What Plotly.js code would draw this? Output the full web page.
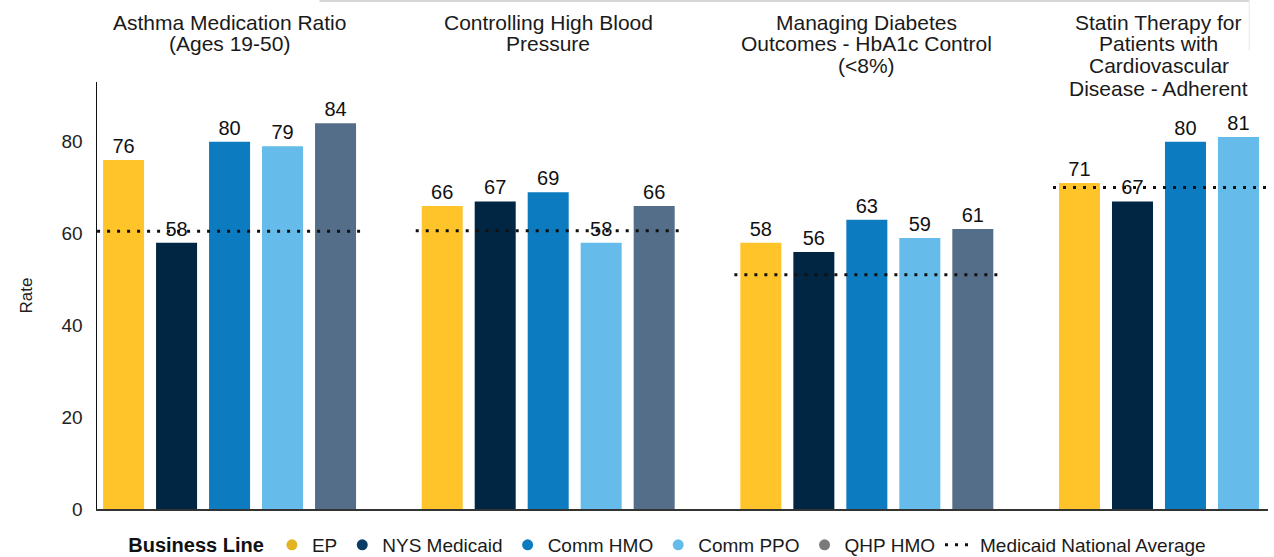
<!DOCTYPE html>
<html>
<head>
<meta charset="utf-8">
<script src="https://cdn.plot.ly/plotly-3.0.1.min.js"></script>
<style>
  html, body { margin: 0; padding: 0; background: #fff; }
  #chart { width: 1274px; height: 557px; }
  #edge { position: absolute; left: 0; top: 0; width: 4px; height: 557px; background: #0f3355; }
</style>
</head>
<body>
<div id="edge"></div>
<div id="chart"></div>
<script>
// ---- data ----
const measures = [
  "Asthma Medication Ratio<br>(Ages 19-50)",
  "Controlling High Blood<br>Pressure",
  "Managing Diabetes<br>Outcomes - HbA1c Control<br>(<8%)",
  "Statin Therapy for<br>Patients with<br>Cardiovascular<br>Disease - Adherent"
];
const seriesNames = ["EP", "NYS Medicaid", "Comm HMO", "Comm PPO", "QHP HMO"];
const EP          = [76, 66, 58, 71];
const NYSMedicaid = [58, 67, 56, 67];
const CommHMO     = [80, 69, 63, 80];
const CommPPO     = [79, 58, 59, 81];
const QHPHMO      = [84, 66, 61, null];
const nationalAvg = [60.5, 60.6, 51, 70];
const avgName = "Medicaid National Average";
const yTicks = [0, 20, 40, 60, 80];

// ---- styles ----
const colors = ["#FFC42A", "#002644", "#0C7BC0", "#65BCEA", "#546E89"];
const legendColors = ["#E3B321", "#0B3C66", "#0C7BC0", "#65BCEA", "#7A7A7A"];
const font = "Liberation Sans, Arial, sans-serif";
const idx = measures.map((_, i) => i);
const seriesValues = [EP, NYSMedicaid, CommHMO, CommPPO, QHPHMO];

const W = 1274, H = 557;
const plotTop = 82, plotBottom = 509, plotH = plotBottom - plotTop;
const bargap = 0.1685;
const half = (1 - bargap) / 2;
const slotW = (1 - bargap) / seriesValues.length;

const traces = [];
seriesValues.forEach((vals, s) => {
  traces.push({
    type: "bar",
    x: idx,
    y: vals,
    name: seriesNames[s],
    marker: { color: colors[s] },
    text: vals.map(v => v == null ? "" : String(v)),
    textposition: "outside",
    textfont: { family: font, size: 20, color: "#111" },
    cliponaxis: false,
    showlegend: false,
    hoverinfo: "y"
  });
});

// dotted national average segments per measure
const ax = [], ay = [];
idx.forEach(i => {
  ax.push(i - half, i + half, null);
  ay.push(nationalAvg[i], nationalAvg[i], null);
});

// legend entries (circle markers)
seriesNames.forEach((n, s) => {
  traces.push({
    type: "scatter", mode: "markers", x: [null], y: [null], name: n,
    marker: { symbol: "circle", size: 11, color: legendColors[s] },
    showlegend: true, hoverinfo: "skip"
  });
});
traces.push({
  type: "scatter", mode: "lines", x: ax, y: ay, name: avgName,
  line: { color: "#111", width: 3, dash: "3px,7px" },
  showlegend: true, hoverinfo: "y"
});

// measure titles, one annotation per line (22px line pitch), centred over the bars present
const annotations = [];
measures.forEach((m, i) => {
  const n = seriesValues.filter(v => v[i] != null).length;
  const xc = i + ((n - 1) / 2 - (seriesValues.length - 1) / 2) * slotW;
  m.split("<br>").forEach((line, k) => {
    const py = 22 + 22 * k;
    annotations.push({
      x: xc, xref: "x", y: (plotBottom - py) / plotH, yref: "paper",
      yanchor: "middle", xanchor: "center",
      text: line, showarrow: false, align: "center",
      font: { family: font, size: 21, color: "#1a1a1a" }
    });
  });
});

const layout = {
  width: W, height: H,
  margin: { l: 97, r: 6, t: plotTop, b: H - plotBottom },
  paper_bgcolor: "#fff", plot_bgcolor: "#fff",
  barmode: "group", bargap: bargap, bargroupgap: 0.226,
  showlegend: true,
  legend: {
    orientation: "h", x: 0.025, xanchor: "left",
    yref: "container", y: (H - 545) / H, yanchor: "middle",
    font: { family: font, size: 19, color: "#1a1a1a" },
    title: { text: "<b>Business Line</b>", side: "left", font: { family: font, size: 20, color: "#111" } },
    itemwidth: 30, traceorder: "normal"
  },
  xaxis: {
    range: [-0.416, 3.259], showticklabels: false, showgrid: false, zeroline: false,
    showline: true, linecolor: "#333", linewidth: 2, ticks: ""
  },
  yaxis: {
    range: [0, 93], tickvals: yTicks, ticktext: yTicks.map(String),
    showgrid: false, zeroline: false, showline: true, linecolor: "#111", linewidth: 1.5,
    ticks: "", ticklabelstandoff: 9,
    tickfont: { family: font, size: 19, color: "#222" },
    title: { text: "Rate", standoff: 24, font: { family: font, size: 17, color: "#222" } }
  },
  annotations: annotations,
  shapes: [
    { type: "line", xref: "paper", yref: "paper", x0: 0.19, x1: 0.984, y0: (plotBottom - 1) / plotH, y1: (plotBottom - 1) / plotH,
      line: { color: "#d6d6d6", width: 2 } },
    { type: "line", xref: "paper", yref: "paper", x0: 0.984, x1: 0.984, y0: (plotBottom - 1) / plotH, y1: (plotBottom - 50) / plotH,
      line: { color: "#e6e6e6", width: 1 } }
  ]
};

Plotly.newPlot("chart", traces, layout, { displayModeBar: false, staticPlot: true });
</script>
</body>
</html>
